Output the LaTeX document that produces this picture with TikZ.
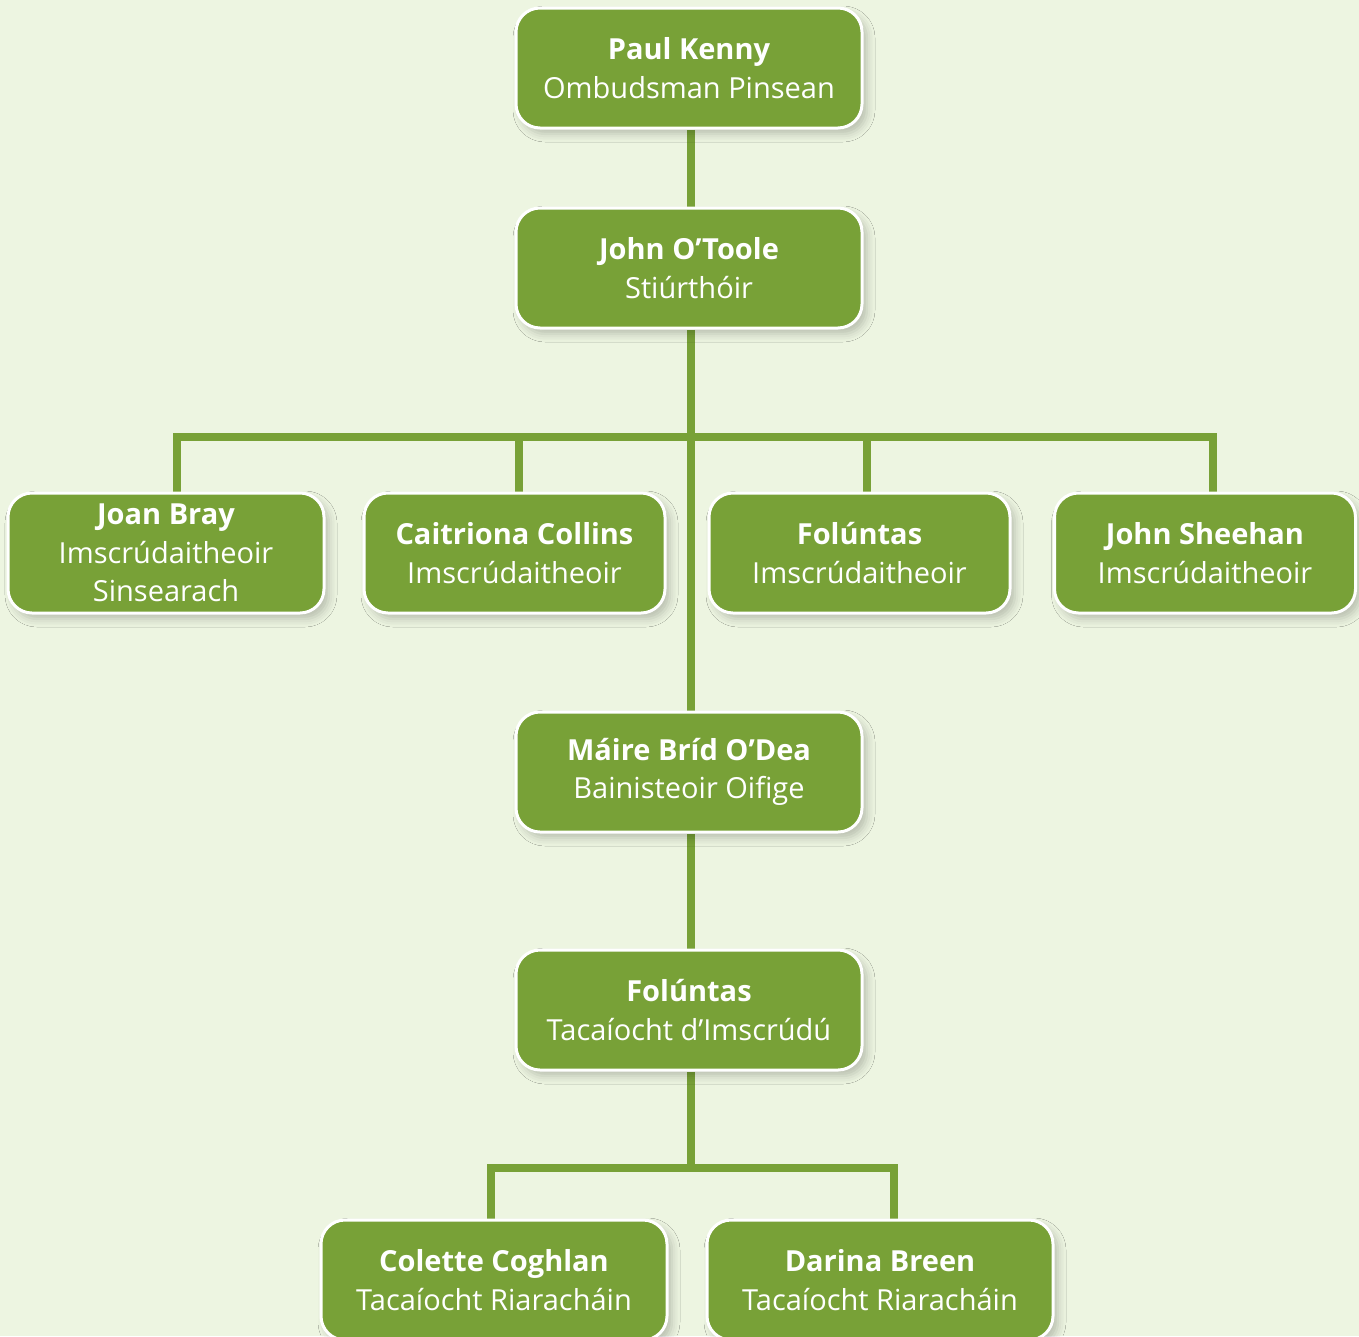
\documentclass[tikz,border=0pt]{standalone}
\usepackage{fontspec}
\setmainfont{Open Sans}
\usetikzlibrary{shadows.blur,backgrounds,calc}
\definecolor{bg}{HTML}{EDF5E1}
\definecolor{gr}{HTML}{78A137}
\tikzset{
  box/.style={draw=white, line width=3pt, fill=gr, rounded corners=24pt,
    minimum width=346pt, minimum height=120pt, inner sep=0pt, text=white, align=center,
    font=\fontsize{29}{38.5}\selectfont,
    blur shadow={shadow xshift=5pt, shadow yshift=-6pt, shadow blur radius=8pt, shadow opacity=22}},
  smallbox/.style={box, minimum width=316pt},
  midbox/.style={box, minimum width=301pt},
  conn/.style={draw=gr, line width=8pt},
}
\newcommand{\nm}[1]{\textbf{#1}}
\begin{document}
\begin{tikzpicture}[x=1pt,y=-1pt]
\useasboundingbox (0,0) rectangle (1359,1336);
\node[box] (pk) at (689,68) {\nm{Paul Kenny}\\Ombudsman Pinsean};
\node[box] (jo) at (689,268) {\nm{John O’Toole}\\Stiúrthóir};
\node[smallbox] (jb) at (166,553) {\nm{Joan Bray}\\Imscrúdaitheoir\\Sinsearach};
\node[midbox] (cc) at (514.5,553) {\nm{Caitriona Collins}\\Imscrúdaitheoir};
\node[midbox] (fo) at (859.5,553) {\nm{Folúntas}\\Imscrúdaitheoir};
\node[midbox] (js) at (1205,553) {\nm{John Sheehan}\\Imscrúdaitheoir};
\node[box] (mb) at (689,772) {\nm{Máire Bríd O’Dea}\\Bainisteoir Oifige};
\node[box] (ft) at (689,1010) {\nm{Folúntas}\\Tacaíocht d’Imscrúdú};
\node[box] (co) at (494,1280) {\nm{Colette Coghlan}\\Tacaíocht Riaracháin};
\node[box] (db) at (880,1280) {\nm{Darina Breen}\\Tacaíocht Riaracháin};
\coordinate (bar) at (691,437);
\coordinate (bar2) at (691,1168);
\begin{pgfonlayer}{background}
\fill[bg] (0,0) rectangle (1359,1336);
\draw[conn] ([xshift=2pt]pk.south) -- ([xshift=2pt]jo.north);
\draw[conn] ([xshift=2pt]jo.south) -- ([xshift=2pt]mb.north);
\draw[conn] ([xshift=11pt]jb.north) -- ([xshift=11pt]jb.north |- bar) -- ([xshift=8pt]js.north |- bar) -- ([xshift=8pt]js.north);
\draw[conn] ([xshift=4.5pt]cc.north) -- ([xshift=4.5pt]cc.north |- bar);
\draw[conn] ([xshift=7.5pt]fo.north) -- ([xshift=7.5pt]fo.north |- bar);
\draw[conn] ([xshift=2pt]mb.south) -- ([xshift=2pt]ft.north);
\draw[conn] ([xshift=2pt]ft.south) -- (bar2);
\draw[conn] ([xshift=-3pt]co.north) -- ([xshift=-3pt]co.north |- bar2) -- ([xshift=14pt]db.north |- bar2) -- ([xshift=14pt]db.north);
\end{pgfonlayer}
\end{tikzpicture}
\end{document}
